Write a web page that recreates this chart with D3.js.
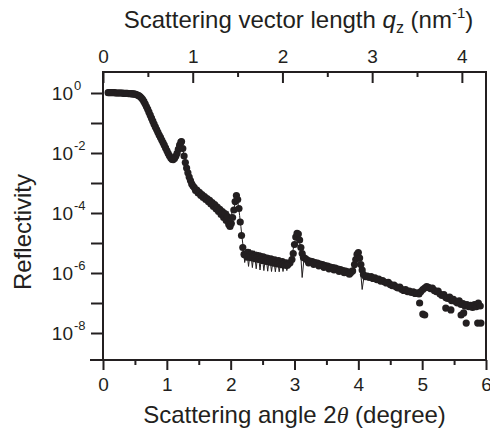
<!DOCTYPE html>
<html lang="en">
<head>
    <meta charset="UTF-8">
    <title>Reflectivity</title>
    <script src="https://cdn.jsdelivr.net/npm/d3@7/dist/d3.min.js"></script>
    <style>
        body { margin: 0; background: #fff; }
        text { font-family: Arial, "Liberation Sans", sans-serif; fill: #231f20; }
    </style>
</head>
<body>
    <script>
        // measured points: scattering angle 2theta (deg) and log10 of reflectivity
        const angle = [
            0.08, 0.10, 0.12, 0.14, 0.16, 0.18, 0.20, 0.22, 0.24, 0.26, 0.28, 0.30, 0.32, 0.34, 0.36, 0.38,
            0.40, 0.42, 0.44, 0.46, 0.48, 0.50,
            0.52, 0.54, 0.56, 0.58, 0.60, 0.62, 0.64, 0.66, 0.68, 0.70, 0.72, 0.74, 0.76, 0.78, 0.80, 0.82,
            0.84, 0.86, 0.88, 0.90, 0.92, 0.94, 0.96, 0.98, 1.00, 1.02, 1.04, 1.06, 1.08, 1.10, 1.12, 1.14,
            1.16, 1.18, 1.20, 1.22, 1.23,
            1.25, 1.27, 1.29, 1.31, 1.33, 1.35, 1.37, 1.39, 1.41, 1.43, 1.45, 1.47, 1.49, 1.51, 1.53, 1.55,
            1.57, 1.59, 1.61, 1.63, 1.65, 1.67, 1.69, 1.71, 1.73, 1.75, 1.77, 1.79, 1.81, 1.83, 1.85, 1.87,
            1.89, 1.91, 1.93, 1.95, 1.97, 1.99, 2.01, 2.03, 2.05, 2.07, 2.09, 2.11, 2.13, 2.15, 2.17, 2.19, 2.21,
            2.24, 2.27, 2.30, 2.33, 2.36, 2.39, 2.42, 2.45, 2.48, 2.51, 2.54, 2.57, 2.60, 2.63, 2.66, 2.69,
            2.72, 2.75, 2.78, 2.81, 2.84, 2.87, 2.90, 2.93, 2.96, 2.98, 3.00, 3.02, 3.04, 3.06, 3.08, 3.10,
            3.12, 3.14, 3.17,
            3.20, 3.24, 3.28, 3.32, 3.36, 3.40, 3.44, 3.48, 3.52, 3.56, 3.60, 3.64, 3.68, 3.72, 3.76, 3.80,
            3.84, 3.88, 3.91, 3.94, 3.96, 3.98, 4.00, 4.02, 4.04, 4.06, 4.08, 4.11,
            4.14, 4.17, 4.20, 4.23, 4.26, 4.29, 4.32, 4.35, 4.38, 4.41, 4.44, 4.47, 4.50, 4.53, 4.56, 4.59,
            4.62, 4.65, 4.68, 4.71, 4.74, 4.77, 4.80, 4.83, 4.86, 4.89, 4.92, 4.95, 4.98, 5.01, 5.04, 5.07,
            5.10, 5.13, 5.16, 5.19, 5.22, 5.25, 5.28, 5.31, 5.34, 5.37, 5.40, 5.43, 5.46, 5.49, 5.52, 5.55,
            5.58, 5.61, 5.64, 5.67, 5.70, 5.73, 5.76, 5.79, 5.82, 5.85, 5.88, 5.91,
            // second row of the noisy band
            2.255, 2.285, 2.315, 2.345, 2.375, 2.405, 2.435, 2.465, 2.495, 2.525, 2.555, 2.585, 2.615, 2.645,
            2.675, 2.705, 2.735, 2.765, 2.795, 2.825, 2.855, 2.885,
            3.22, 3.30, 3.38, 3.46, 3.54, 3.62, 3.70, 3.78, 3.86,
            // outliers
            4.96, 5.01, 5.04, 5.37, 5.45, 5.61, 5.65, 5.69, 5.87, 5.92
        ];
        const logReflectivity = [
            0.01, 0.01, 0.01, 0.01, 0.01, 0.01, 0.00, 0.00, 0.00, 0.00, 0.00, 0.00, -0.01, -0.01, -0.01, -0.01,
            -0.02, -0.02, -0.02, -0.03, -0.03, -0.04,
            -0.05, -0.07, -0.09, -0.12, -0.16, -0.21, -0.28, -0.36, -0.45, -0.54, -0.64, -0.74, -0.84, -0.94, -1.04, -1.13,
            -1.22, -1.31, -1.40, -1.48, -1.57, -1.65, -1.74, -1.83, -1.92, -2.01, -2.09, -2.16, -2.21, -2.22, -2.18, -2.11,
            -2.01, -1.88, -1.74, -1.64, -1.62,
            -1.85, -2.10, -2.32, -2.50, -2.66, -2.80, -2.92, -3.03, -3.10, -3.15, -3.25, -3.24, -3.33, -3.31, -3.41, -3.39,
            -3.48, -3.45, -3.55, -3.52, -3.62, -3.58, -3.70, -3.65, -3.78, -3.72, -3.86, -3.80, -3.95, -3.88, -4.05, -3.95,
            -4.15, -4.02, -4.25, -4.12, -4.38, -4.45, -4.35, -4.15, -3.90, -3.62, -3.42, -3.55, -3.85, -4.30, -4.75, -5.15, -5.38,
            -5.38, -5.31, -5.38, -5.36, -5.42, -5.40, -5.46, -5.43, -5.49, -5.46, -5.52, -5.50, -5.55, -5.53, -5.58, -5.56,
            -5.62, -5.59, -5.65, -5.62, -5.68, -5.66, -5.71, -5.66, -5.55, -5.35, -5.05, -4.80, -4.68, -4.70, -4.90, -5.15,
            -5.35, -5.48, -5.52,
            -5.57, -5.60, -5.62, -5.65, -5.67, -5.70, -5.72, -5.75, -5.77, -5.80, -5.82, -5.84, -5.87, -5.89, -5.92, -5.94,
            -5.96, -5.99, -5.93, -5.72, -5.55, -5.38, -5.32, -5.50, -5.72, -5.90, -6.05, -6.12,
            -6.10, -6.15, -6.12, -6.18, -6.16, -6.22, -6.20, -6.27, -6.25, -6.30, -6.33, -6.31, -6.38, -6.42, -6.40, -6.46,
            -6.50, -6.47, -6.55, -6.58, -6.55, -6.62, -6.60, -6.65, -6.63, -6.68, -6.66, -6.70, -6.62, -6.55, -6.50, -6.45,
            -6.48, -6.52, -6.50, -6.58, -6.62, -6.60, -6.70, -6.75, -6.72, -6.82, -6.85, -6.80, -6.92, -6.88, -6.95, -7.00,
            -6.93, -7.05, -7.02, -7.10, -7.05, -7.12, -7.08, -7.15, -7.05, -7.12, -7.00, -7.10,
            -5.47, -5.45, -5.49, -5.48, -5.52, -5.51, -5.55, -5.54, -5.58, -5.57, -5.61, -5.60, -5.64, -5.63,
            -5.67, -5.66, -5.70, -5.69, -5.72, -5.71, -5.74, -5.75,
            -5.66, -5.71, -5.76, -5.81, -5.86, -5.90, -5.95, -5.99, -6.04,
            -7.00, -7.37, -7.40, -7.17, -7.23, -7.40, -7.33, -7.67, -7.67, -7.67
        ];

        // fitted curve (thin line with Kiessig fringes)
        const fitAngle = [
            0.08, 0.30, 0.50, 0.60, 0.70, 0.80, 0.90, 1.00, 1.08, 1.14, 1.20, 1.23, 1.27, 1.31, 1.35, 1.41,
            1.50, 1.60, 1.70, 1.80, 1.84, 1.87, 1.90, 1.93, 1.96, 1.99, 2.02, 2.05, 2.08, 2.10, 2.12, 2.14,
            2.16, 2.18, 2.20, 2.22, 2.25, 2.28, 2.31, 2.34, 2.37, 2.40, 2.43, 2.46, 2.49, 2.52, 2.55, 2.58,
            2.61, 2.64, 2.67, 2.70, 2.73, 2.76, 2.79, 2.82, 2.85, 2.88, 2.91, 2.94, 2.97, 3.00, 3.03, 3.05,
            3.07, 3.09, 3.12, 3.15, 3.30, 3.50, 3.70, 3.85, 3.90, 3.95, 3.99, 4.02, 4.06, 4.09, 4.30, 4.60,
            4.90, 5.10, 5.30, 5.50, 5.70, 5.90
        ];
        const fitLogR = [
            0.00, 0.00, -0.03, -0.16, -0.54, -1.04, -1.48, -1.92, -2.21, -2.11, -1.74, -1.62, -2.10, -2.50, -2.80, -3.12,
            -3.33, -3.50, -3.70, -3.90, -3.80, -4.12, -3.90, -4.28, -3.95, -4.42, -3.98, -3.88, -3.55, -3.40, -3.72, -4.08,
            -4.45, -4.85, -5.20, -5.65, -5.20, -5.78, -5.22, -5.82, -5.26, -5.86, -5.30, -5.90, -5.34, -5.92, -5.38, -5.94,
            -5.42, -5.95, -5.46, -5.96, -5.50, -5.96, -5.54, -5.95, -5.58, -5.92, -5.60, -5.50, -5.30, -5.00, -4.75, -4.70,
            -4.85, -5.10, -6.15, -5.50, -5.63, -5.76, -5.88, -5.97, -6.00, -5.60, -5.35, -5.55, -6.55, -6.10, -6.22, -6.45,
            -6.65, -6.55, -6.75, -6.93, -7.08, -7.10
        ];

        const angleTicks = [0, 1, 2, 3, 4, 5, 6];
        const angleMinorTicks = [0.5, 1.5, 2.5, 3.5, 4.5, 5.5];
        const qTicks = [0, 1, 2, 3, 4];
        const qMinorTicks = [0.5, 1.5, 2.5, 3.5];
        const decades = [0, -1, -2, -3, -4, -5, -6, -7, -8];
        const labelledDecades = [0, -2, -4, -6, -8];

        const width = 490, height = 440;
        const mLeft = 103, mRight = 486, mTop = 72, mBottom = 360;
        const ink = '#231f20';

        // q = 4 pi sin(theta) / lambda, Cu K-alpha
        const lambda = 0.15406;
        const qMax = 4 * Math.PI * Math.sin(3 * Math.PI / 180) / lambda;

        const x = d3.scaleLinear().domain([0, 6]).range([mLeft, mRight]);
        const xq = d3.scaleLinear().domain([0, qMax]).range([mLeft, mRight]);
        const y = d3.scaleLog().domain([Math.pow(10, -8.9), Math.pow(10, 0.7)]).range([mBottom, mTop]);

        const svg = d3.select('body').append('svg').attr('width', width).attr('height', height);

        const points = angle.map((a, i) => ({a: a, r: Math.pow(10, logReflectivity[i])}));
        const fit = fitAngle.map((a, i) => ({a: a, r: Math.pow(10, fitLogR[i])}));

        // fit line
        const line = d3.line().x(d => x(d.a)).y(d => y(d.r));
        svg.append('path').datum(fit).attr('d', line)
            .attr('fill', 'none').attr('stroke', ink).attr('stroke-width', 1);

        // measured points
        svg.append('g').selectAll('circle').data(points).enter().append('circle')
            .attr('cx', d => x(d.a)).attr('cy', d => y(d.r)).attr('r', 3.6).attr('fill', ink);

        // frame
        svg.append('rect').attr('x', mLeft).attr('y', mTop).attr('width', mRight - mLeft).attr('height', mBottom - mTop)
            .attr('fill', 'none').attr('stroke', ink).attr('stroke-width', 2);

        function styleAxis(g) {
            g.selectAll('.domain').remove();
            g.selectAll('line').attr('stroke', ink).attr('stroke-width', 2);
            g.selectAll('text').attr('fill', ink);
        }

        // bottom axis
        const gx = svg.append('g').attr('transform', `translate(0,${mBottom})`)
            .call(d3.axisBottom(x).tickValues(angleTicks).tickSize(10).tickPadding(5).tickFormat(d3.format('d')));
        styleAxis(gx);
        gx.selectAll('text').attr('font-size', 19).attr('dy', '0.85em');
        svg.append('g').attr('transform', `translate(0,${mBottom})`)
            .call(d3.axisBottom(x).tickValues(angleMinorTicks).tickSize(5).tickFormat(''))
            .call(styleAxis);
        svg.append('line').attr('x1', 90).attr('x2', mRight).attr('y1', mBottom).attr('y2', mBottom)
            .attr('stroke', ink).attr('stroke-width', 2);

        // top axis (inward ticks)
        const gq = svg.append('g').attr('transform', `translate(0,${mTop})`)
            .call(d3.axisTop(xq).tickValues(qTicks).tickSizeInner(-11).tickSizeOuter(0).tickPadding(9).tickFormat(d3.format('d')));
        styleAxis(gq);
        gq.selectAll('text').attr('font-size', 19);
        svg.append('g').attr('transform', `translate(0,${mTop})`)
            .call(d3.axisTop(xq).tickValues(qMinorTicks).tickSizeInner(-5).tickSizeOuter(0).tickFormat(''))
            .call(styleAxis);

        // left axis
        const gy = svg.append('g').attr('transform', `translate(${mLeft},0)`)
            .call(d3.axisLeft(y).tickValues(decades.map(k => Math.pow(10, k))).tickSize(12).tickFormat(''));
        styleAxis(gy);
        const lab = svg.append('g').selectAll('g').data(labelledDecades).enter().append('g');
        lab.append('text').attr('x', 73).attr('y', k => y(Math.pow(10, k)) + 7)
            .attr('text-anchor', 'end').attr('font-size', 19).text('10');
        lab.append('text').attr('x', 74).attr('y', k => y(Math.pow(10, k)) - 3)
            .attr('font-size', 13).text(k => k === 0 ? '0' : '-' + Math.abs(k));

        // titles
        svg.append('text').attr('x', (mLeft + mRight) / 2).attr('y', 423).attr('text-anchor', 'middle')
            .attr('font-size', 24)
            .call(t => {
                t.append('tspan').text('Scattering angle 2');
                t.append('tspan').attr('font-style', 'italic').attr('font-family', 'Times New Roman, Liberation Serif, serif').text('\u03b8');
                t.append('tspan').text(' (degree)');
            });

        svg.append('text').attr('x', (mLeft + mRight) / 2 + 4).attr('y', 28).attr('text-anchor', 'middle')
            .attr('font-size', 24)
            .call(t => {
                t.append('tspan').text('Scattering vector length ');
                t.append('tspan').attr('font-style', 'italic').text('q');
                t.append('tspan').attr('font-size', 16).attr('dy', 5).text('z');
                t.append('tspan').attr('dy', -5).text(' (nm');
                t.append('tspan').attr('font-size', 15).attr('dy', -10).text('-1');
                t.append('tspan').attr('dy', 10).text(')');
            });

        svg.append('text').attr('transform', 'translate(31,232) rotate(-90)').attr('text-anchor', 'middle')
            .attr('font-size', 24).text('Reflectivity');
    </script>
</body>
</html>
